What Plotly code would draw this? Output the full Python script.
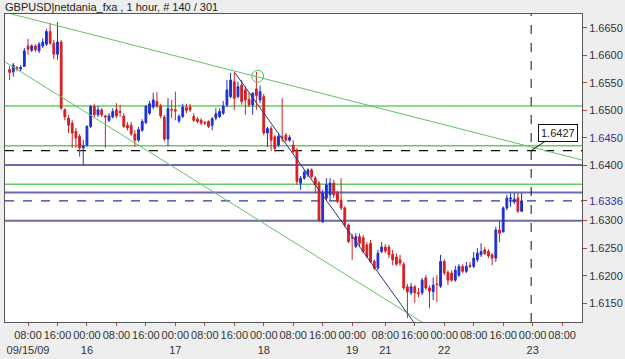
import plotly.graph_objects as go

# ---------------- data (bar index, OHLC) ----------------
bar_start = -5
opens = [1.6574,1.6570,1.6578,1.6575,1.6580,1.6617,1.6609,1.6617,1.6608,1.6617,
         1.6620,1.6643,1.6622,1.6602,1.6624,1.6501,1.6486,1.6477,1.6462,1.6453,
         1.6432,1.6437,1.6471,1.6507,1.6492,1.6501,1.6490,1.6482,1.6488,1.6501,
         1.6498,1.6490,1.6473,1.6473,1.6457,1.6446,1.6464,1.6478,1.6495,1.6506,
         1.6516,1.6508,1.6488,1.6448,1.6502,1.6501,1.6481,1.6489,1.6505,1.6506,
         1.6489,1.6484,1.6482,1.6478,1.6480,1.6473,1.6486,1.6489,1.6495,1.6510,
         1.6525,1.6552,1.6525,1.6546,1.6537,1.6520,1.6510,1.6539,1.6519,1.6525,
         1.6459,1.6467,1.6452,1.6437,1.6452,1.6455,1.6446,1.6437,1.6428,1.6368,
         1.6377,1.6383,1.6392,1.6377,1.6368,1.6298,1.6341,1.6347,1.6368,1.6350,
         1.6337,1.6323,1.6292,1.6270,1.6253,1.6271,1.6269,1.6256,1.6259,1.6226,
         1.6214,1.6244,1.6252,1.6252,1.6239,1.6234,1.6229,1.6221,1.6180,1.6169,
         1.6180,1.6169,1.6169,1.6196,1.6178,1.6171,1.6185,1.6181,1.6226,1.6206,
         1.6205,1.6192,1.6201,1.6217,1.6208,1.6219,1.6217,1.6229,1.6238,1.6247,
         1.6244,1.6238,1.6232,1.6283,1.6280,1.6323,1.6339,1.6334,1.6341,1.6317]
highs = [1.6580,1.6586,1.6580,1.6582,1.6613,1.6630,1.6620,1.6620,1.6624,1.6631,
         1.6648,1.6659,1.6628,1.6660,1.6628,1.6504,1.6492,1.6482,1.6468,1.6457,
         1.6446,1.6473,1.6510,1.6512,1.6508,1.6504,1.6492,1.6495,1.6504,1.6513,
         1.6510,1.6495,1.6479,1.6479,1.6464,1.6470,1.6484,1.6510,1.6517,1.6532,
         1.6533,1.6512,1.6492,1.6522,1.6519,1.6534,1.6493,1.6512,1.6512,1.6512,
         1.6495,1.6488,1.6486,1.6481,1.6482,1.6488,1.6504,1.6504,1.6517,1.6555,
         1.6568,1.6570,1.6552,1.6555,1.6544,1.6532,1.6533,1.6570,1.6545,1.6530,
         1.6470,1.6472,1.6455,1.6457,1.6522,1.6459,1.6455,1.6446,1.6432,1.6381,
         1.6392,1.6395,1.6395,1.6381,1.6372,1.6356,1.6377,1.6377,1.6374,1.6354,
         1.6377,1.6326,1.6295,1.6276,1.6277,1.6277,1.6274,1.6261,1.6265,1.6230,
         1.6247,1.6261,1.6257,1.6256,1.6247,1.6241,1.6238,1.6225,1.6185,1.6187,
         1.6183,1.6178,1.6196,1.6201,1.6183,1.6197,1.6201,1.6238,1.6230,1.6210,
         1.6210,1.6218,1.6221,1.6221,1.6225,1.6225,1.6243,1.6250,1.6259,1.6252,
         1.6248,1.6241,1.6289,1.6301,1.6326,1.6347,1.6350,1.6350,1.6350,1.6350]
lows = [1.6555,1.6561,1.6571,1.6571,1.6579,1.6601,1.6606,1.6606,1.6604,1.6613,
        1.6617,1.6619,1.6593,1.6592,1.6501,1.6482,1.6459,1.6432,1.6432,1.6416,
        1.6401,1.6434,1.6468,1.6488,1.6488,1.6488,1.6432,1.6479,1.6486,1.6486,
        1.6488,1.6468,1.6464,1.6454,1.6434,1.6443,1.6461,1.6475,1.6492,1.6502,
        1.6504,1.6486,1.6444,1.6435,1.6486,1.6482,1.6477,1.6486,1.6495,1.6497,
        1.6479,1.6477,1.6473,1.6473,1.6468,1.6464,1.6482,1.6486,1.6492,1.6506,
        1.6522,1.6501,1.6522,1.6510,1.6492,1.6506,1.6492,1.6501,1.6513,1.6455,
        1.6434,1.6426,1.6425,1.6434,1.6443,1.6443,1.6443,1.6422,1.6365,1.6356,
        1.6374,1.6379,1.6377,1.6350,1.6298,1.6296,1.6337,1.6337,1.6341,1.6332,
        1.6319,1.6288,1.6259,1.6229,1.6250,1.6254,1.6241,1.6232,1.6223,1.6210,
        1.6210,1.6241,1.6241,1.6232,1.6219,1.6218,1.6218,1.6174,1.6123,1.6165,
        1.6151,1.6161,1.6165,1.6174,1.6141,1.6156,1.6152,1.6178,1.6201,1.6183,
        1.6189,1.6189,1.6198,1.6205,1.6205,1.6214,1.6214,1.6225,1.6234,1.6238,
        1.6232,1.6219,1.6225,1.6261,1.6278,1.6319,1.6325,1.6330,1.6314,1.6316]
closes = [1.6569,1.6582,1.6576,1.6578,1.6608,1.6611,1.6617,1.6610,1.6620,1.6624,
          1.6643,1.6622,1.6602,1.6624,1.6504,1.6488,1.6473,1.6459,1.6450,1.6432,
          1.6436,1.6471,1.6507,1.6492,1.6501,1.6492,1.6488,1.6490,1.6498,1.6490,
          1.6496,1.6471,1.6468,1.6457,1.6446,1.6465,1.6480,1.6507,1.6512,1.6519,
          1.6508,1.6490,1.6448,1.6503,1.6501,1.6499,1.6489,1.6506,1.6500,1.6501,
          1.6482,1.6480,1.6477,1.6477,1.6471,1.6485,1.6494,1.6498,1.6508,1.6537,
          1.6555,1.6522,1.6543,1.6516,1.6519,1.6510,1.6531,1.6527,1.6534,1.6459,
          1.6467,1.6446,1.6431,1.6453,1.6450,1.6446,1.6451,1.6425,1.6371,1.6377,
          1.6388,1.6392,1.6380,1.6365,1.6301,1.6350,1.6365,1.6368,1.6347,1.6335,
          1.6323,1.6292,1.6262,1.6269,1.6271,1.6259,1.6244,1.6235,1.6226,1.6214,
          1.6241,1.6252,1.6245,1.6238,1.6229,1.6221,1.6223,1.6178,1.6171,1.6180,
          1.6169,1.6168,1.6192,1.6178,1.6172,1.6183,1.6184,1.6226,1.6205,1.6192,
          1.6192,1.6210,1.6217,1.6208,1.6217,1.6217,1.6232,1.6241,1.6244,1.6240,
          1.6236,1.6232,1.6283,1.6277,1.6323,1.6341,1.6341,1.6339,1.6317,1.6336]

# x-axis ticks (bar index -> label)
tick_idx = [0, 8, 16, 24, 32, 40, 48, 56, 64, 72, 80, 88, 97, 105, 113, 121, 129, 137, 145]
tick_time = ["08:00", "16:00", "00:00", "08:00", "16:00", "00:00", "08:00", "16:00", "00:00",
             "08:00", "16:00", "00:00", "08:00", "16:00", "00:00", "08:00", "16:00", "00:00", "08:00"]
tick_day = ["09/15/09", "", "16", "", "", "17", "", "", "18", "", "", "19", "21", "", "22", "", "", "23", ""]

# y-axis ticks
price_ticks = [1.6150, 1.6200, 1.6250, 1.6300, 1.6336, 1.6400, 1.6450, 1.6500, 1.6550, 1.6600, 1.6650]
price_tick_colors = ["#333", "#333", "#333", "#333", "#333399", "#333", "#333399", "#333", "#333", "#333", "#333"]

# drawn levels / trendlines
green_levels = [1.6508, 1.6436, 1.6366]
blue_levels = [1.6401, 1.6351, 1.6300]
black_dash_level = 1.6427
blue_dash_level = 1.6336
upper_trend_x, upper_trend_y = [-6.25, 150.4], [1.6678, 1.6410]
lower_trend_x, lower_trend_y = [-6.25, 112.0], [1.6588, 1.6095]
navy_trend_x, navy_trend_y = [56.2, 106.4], [1.6568, 1.6100]
vline_idx = 136.6
circle_idx, circle_price = 62.35, 1.6562
label_text = "1.6427"

x_vals = list(range(bar_start, bar_start + len(opens)))

fig = go.Figure()

for xs, ys, col in [(upper_trend_x, upper_trend_y, "#66c266"),
                    (lower_trend_x, lower_trend_y, "#66c266"),
                    (navy_trend_x, navy_trend_y, "#33337f")]:
    fig.add_trace(go.Scatter(x=xs, y=ys, mode="lines", line=dict(color=col, width=1),
                             hoverinfo="skip", showlegend=False))

fig.add_trace(go.Candlestick(
    x=x_vals, open=opens, high=highs, low=lows, close=closes,
    increasing=dict(line=dict(color="#1f2fd0", width=1), fillcolor="#1f2fd0"),
    decreasing=dict(line=dict(color="#d42020", width=1), fillcolor="#d42020"),
    whiskerwidth=0, showlegend=False))

shapes = []
for lv in green_levels:
    shapes.append(dict(type="line", xref="paper", x0=0, x1=1, yref="y", y0=lv, y1=lv,
                       line=dict(color="#66cc66", width=1.5), layer="below"))
for lv in blue_levels:
    shapes.append(dict(type="line", xref="paper", x0=0, x1=1, yref="y", y0=lv, y1=lv,
                       line=dict(color="#6a6aae", width=2), layer="below"))
shapes.append(dict(type="line", xref="paper", x0=0, x1=1, yref="y", y0=black_dash_level, y1=black_dash_level,
                   line=dict(color="#111", width=1.3, dash="dash"), layer="below"))
shapes.append(dict(type="line", xref="paper", x0=0, x1=1, yref="y", y0=blue_dash_level, y1=blue_dash_level,
                   line=dict(color="#333399", width=1.3, dash="dash"), layer="below"))
shapes.append(dict(type="line", xref="x", x0=vline_idx, x1=vline_idx, yref="paper", y0=0, y1=1,
                   line=dict(color="#111", width=1, dash="dash")))
shapes.append(dict(type="circle", xref="x", yref="y",
                   x0=circle_idx - 1.6, x1=circle_idx + 1.6,
                   y0=circle_price - 0.0011, y1=circle_price + 0.0011,
                   line=dict(color="#55bb55", width=1)))

fig.update_layout(
    width=625, height=359,
    margin=dict(l=5, r=43, t=14, b=37, autoexpand=False),
    paper_bgcolor="#eeeeee", plot_bgcolor="#ffffff",
    font=dict(family="Liberation Sans, Arial, sans-serif", size=11, color="#333"),
    title=dict(text="GBPUSD|netdania_fxa , 1 hour, # 140 / 301", x=5 / 625, xanchor="left",
               xref="container", yref="container", y=1 - 7 / 359, yanchor="middle",
               font=dict(size=11, color="#222")),
    shapes=shapes,
    showlegend=False,
    xaxis=dict(range=[-6.25, 150.4], rangeslider=dict(visible=False), showgrid=False, zeroline=False,
               tickmode="array", tickvals=tick_idx,
               ticktext=[t + "<br>" + d for t, d in zip(tick_time, tick_day)],
               tickangle=0, automargin=False,
               ticks="outside", ticklen=3, tickcolor="#c04040",
               showline=True, linecolor="#555", linewidth=1, mirror=True,
               tickfont=dict(size=11, color="#333")),
    yaxis=dict(range=[1.61161, 1.66749], side="right", showgrid=False, zeroline=False,
               tickmode="array", tickvals=price_ticks, automargin=False,
               ticktext=[f'<span style="color:{c}">{v:.4f}</span>' for v, c in zip(price_ticks, price_tick_colors)],
               ticks="outside", ticklen=4, tickcolor="#c04040",
               showline=True, linecolor="#555", linewidth=1, mirror=True,
               tickfont=dict(size=11, color="#333")),
)

fig.add_annotation(x=vline_idx, y=black_dash_level, xref="x", yref="y", text=label_text,
                   showarrow=True, arrowhead=0, arrowwidth=1, arrowcolor="#111",
                   ax=27, ay=-18, bgcolor="#ffffff", bordercolor="#111", borderwidth=1,
                   borderpad=2, font=dict(size=11, color="#222"))

fig.write_html("out.html")
